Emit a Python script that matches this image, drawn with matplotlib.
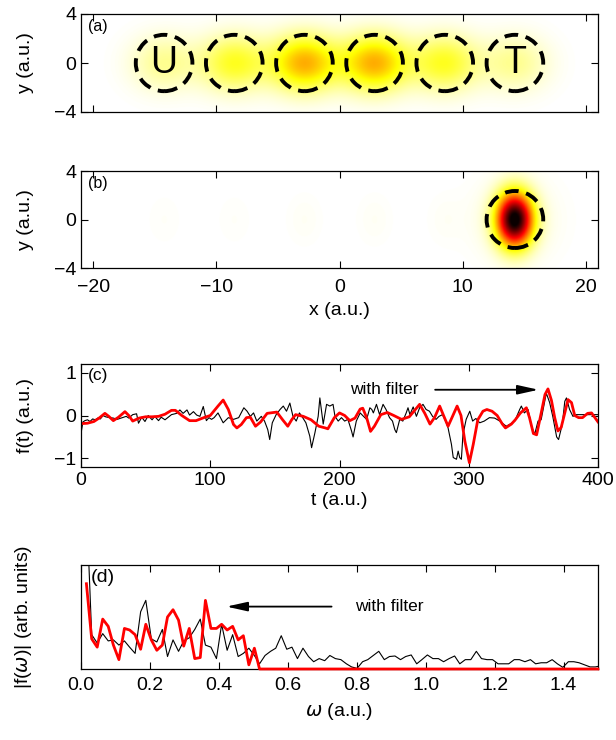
import numpy as np
import matplotlib
matplotlib.use('Agg')
import matplotlib.pyplot as plt
from matplotlib.patches import Ellipse

# ---- panel (a)/(b): site positions and density amplitudes ----
site_x = [-14.25, -8.55, -2.85, 2.85, 8.55, 14.25]
dens_a = [0.11, 0.22, 0.37, 0.37, 0.22, 0.11]
dens_b = [0.008, 0.008, 0.012, 0.012, 0.01, 1.0]
sigma_a = (1.9, 1.6)
sigma_b = (1.0, 1.5)
halo_b = (0.05, 2.2, 2.3)
ring_r = 2.3

# ---- panel (c): f(t), raw (black) and filtered (red) ----
t_raw = [0, 1.5, 3, 5, 7, 9, 11, 13, 15, 17, 19, 22, 25, 28, 31, 35, 37, 40, 43,
         44.5, 47, 49.5, 52, 55, 57, 60, 62, 65, 67.5, 70, 74, 76.5, 79, 82, 84,
         87, 89.5, 92, 94.6, 97, 99, 101, 103, 106, 110, 114, 118, 122, 126,
         128.5, 131, 133.5, 136, 139.5, 142, 144.5, 146, 148, 151, 154, 156.5,
         159, 161.6, 164, 166.5, 169, 171.5, 174, 177, 178.4, 181, 183.5, 184.8,
         187.4, 190, 192.5, 195, 196.5, 199, 201.5, 204, 206.5, 209.3, 210.5,
         213, 216, 218.6, 221, 223.5, 225, 226.2, 228.6, 231, 233.7, 236, 238.7,
         241, 242.8, 244, 246.6, 249, 251.6, 253, 254.5, 257, 259.5, 262, 264.6,
         267, 269.6, 272, 274.7, 277, 279.7, 282.2, 284, 286.6, 288, 290.5,
         291.8, 293, 294.3, 295.5, 298, 300.8, 303, 305.5, 308.5, 312, 316, 320,
         324, 329, 332, 335.6, 339.4, 340.7, 343, 345.9, 348.5, 351, 353.6, 356,
         360, 362.6, 365, 368, 369.5, 372.4, 374.3, 375.6, 378, 380.6, 383.2,
         390, 400]
f_raw = [-0.42, -0.15, -0.12, -0.1, -0.14, -0.08, -0.1, -0.06, -0.08, 0.0, -0.03,
         -0.05, -0.06, -0.09, -0.06, -0.02, -0.06, 0.02, 0.04, -0.18, -0.04,
         -0.14, 0.0, -0.1, -0.02, -0.12, -0.04, -0.1, -0.04, 0.02, 0.05, 0.13,
         0.05, 0.13, 0.01, 0.09, 0.01, -0.02, 0.21, -0.12, -0.05, -0.09, -0.05,
         0.06, -0.17, -0.05, -0.09, -0.05, 0.18, 0.1, -0.02, 0.06, -0.13, -0.02,
         -0.13, -0.33, -0.56, -0.17, 0.02, 0.14, 0.22, 0.1, 0.29, -0.02, -0.13,
         0.06, -0.05, -0.17, -0.48, -0.75, -0.4, -0.02, 0.41, -0.2, 0.26, 0.22,
         0.26, -0.02, -0.13, -0.05, -0.13, -0.09, -0.36, -0.5, -0.13, 0.06,
         -0.02, -0.09, 0.18, 0.14, 0.06, 0.26, 0.02, 0.26, 0.14, -0.05, -0.13,
         -0.33, -0.4, -0.09, -0.13, 0.06, 0.18, 0.02, 0.2, -0.02, 0.18, 0.26,
         0.14, 0.1, -0.02, -0.09, -0.02, 0.02, -0.13, -0.29, -0.67, -0.98, -1.02,
         -0.83, -0.98, -1.02, -0.45, -0.09, 0.1, -0.13, -0.07, -0.17, -0.13,
         -0.05, -0.06, -0.13, -0.25, -0.2, -0.13, 0.14, 0.22, 0.06, 0.14, -0.25,
         -0.44, -0.13, -0.1, 0.52, 0.3, -0.02, -0.5, -0.56, -0.2, 0.33, 0.41,
         0.14, -0.02, 0.02, 0.02, 0.02]

t_filt = [0, 5, 10, 14, 18.5, 21.5, 25, 29, 34, 37, 40, 45, 50, 55, 60, 65, 70,
          73, 78, 84, 89, 95, 100, 106, 110, 114, 118, 120.6, 124, 128, 131, 135,
          139, 144, 151.5, 156, 160, 163, 166, 172, 178, 184, 189, 191, 196, 200,
          204, 208, 212, 216, 218, 221, 224, 227, 232, 237, 242, 248, 254, 259,
          262, 266, 270, 273.5, 277.5, 280.5, 284, 287, 291, 294, 297, 300.5,
          303.5, 307, 311, 314, 318, 322, 326, 328.4, 333, 336, 340, 344.6, 347,
          350, 352.5, 356, 359, 361.3, 364, 366.5, 369, 371.5, 374.3, 376.8,
          379.5, 382, 385, 388, 392, 395, 400]
f_filt = [-0.19, -0.18, -0.14, -0.06, 0.05, -0.02, -0.12, -0.04, 0.09, 0.0,
          -0.13, -0.06, -0.03, -0.03, -0.02, 0.03, 0.12, 0.12, 0.0, -0.12, -0.12,
          -0.05, 0.0, 0.22, 0.36, 0.14, -0.21, -0.29, -0.21, -0.05, -0.04, -0.25,
          -0.15, 0.05, 0.08, -0.1, -0.25, -0.1, 0.02, -0.02, -0.1, -0.25, -0.29,
          -0.31, -0.05, 0.06, 0.0, -0.12, -0.06, 0.15, 0.17, -0.05, -0.37, -0.25,
          0.02, 0.07, 0.0, -0.09, -0.03, 0.15, 0.26, 0.05, -0.2, -0.05, 0.22, 0.0,
          -0.25, -0.05, 0.22, 0.0, -0.6, -1.1, -0.67, -0.1, 0.1, 0.14, 0.1, 0.0,
          -0.2, -0.29, -0.2, -0.1, 0.06, 0.18, -0.05, -0.42, -0.45, 0.05, 0.49,
          0.62, 0.35, -0.05, -0.36, -0.28, 0.06, 0.37, 0.3, 0.0, -0.05, -0.05,
          0.05, 0.06, -0.15]

# ---- panel (d): spectra |f(omega)| ----
w_raw = [0.0157, 0.031, 0.047, 0.063, 0.079, 0.094, 0.110, 0.126, 0.141, 0.157,
         0.173, 0.188, 0.204, 0.220, 0.236, 0.251, 0.267, 0.283, 0.298, 0.314,
         0.330, 0.346, 0.361, 0.377, 0.393, 0.408, 0.424, 0.440, 0.456, 0.471,
         0.487, 0.503, 0.518, 0.534, 0.550, 0.565, 0.581, 0.597, 0.612, 0.628,
         0.644, 0.660, 0.675, 0.691, 0.707, 0.722, 0.738, 0.754, 0.770, 0.785,
         0.801, 0.817, 0.832, 0.848, 0.864, 0.880, 0.895, 0.911, 0.927, 0.942,
         0.958, 0.974, 0.989, 1.005, 1.021, 1.037, 1.052, 1.068, 1.084, 1.099,
         1.115, 1.131, 1.147, 1.162, 1.178, 1.194, 1.210, 1.225, 1.241, 1.257,
         1.272, 1.288, 1.304, 1.319, 1.335, 1.351, 1.367, 1.382, 1.398, 1.414,
         1.430, 1.445, 1.461, 1.477, 1.492, 1.508]
s_raw = [1.6, 0.33, 0.25, 0.34, 0.27, 0.28, 0.23, 0.27, 0.21, 0.15, 0.55, 0.66,
         0.29, 0.26, 0.38, 0.12, 0.28, 0.17, 0.27, 0.30, 0.38, 0.48, 0.23, 0.21,
         0.10, 0.43, 0.18, 0.33, 0.12, 0.15, 0.20, 0.13, 0.05, 0.13, 0.17, 0.20,
         0.32, 0.19, 0.21, 0.10, 0.20, 0.12, 0.07, 0.10, 0.08, 0.13, 0.10, 0.09,
         0.05, 0.02, 0.006, 0.07, 0.09, 0.13, 0.17, 0.09, 0.12, 0.125, 0.09, 0.12,
         0.135, 0.05, 0.09, 0.135, 0.10, 0.10, 0.07, 0.10, 0.125, 0.05, 0.09,
         0.09, 0.17, 0.10, 0.09, 0.09, 0.05, 0.05, 0.05, 0.09, 0.09, 0.07, 0.09,
         0.05, 0.06, 0.06, 0.09, 0.05, 0.016, 0.07, 0.07, 0.06, 0.04, 0.02, 0.02,
         0.03]
w_filt = [0.0157, 0.031, 0.047, 0.063, 0.079, 0.094, 0.110, 0.126, 0.141, 0.157,
          0.173, 0.188, 0.204, 0.220, 0.236, 0.251, 0.267, 0.283, 0.298, 0.314,
          0.330, 0.346, 0.361, 0.377, 0.393, 0.408, 0.424, 0.440, 0.456, 0.471,
          0.487, 0.503, 0.518, 1.5]
s_filt = [0.82, 0.29, 0.21, 0.48, 0.41, 0.23, 0.09, 0.39, 0.375, 0.33, 0.19,
          0.43, 0.28, 0.18, 0.23, 0.50, 0.57, 0.47, 0.22, 0.39, 0.10, 0.11, 0.66,
          0.39, 0.39, 0.43, 0.375, 0.41, 0.28, 0.32, 0.04, 0.20, 0.0, 0.0]

plt.rcParams['font.family'] = ['Liberation Sans', 'DejaVu Sans']
plt.rcParams['font.size'] = 14
plt.rcParams['mathtext.fontset'] = 'dejavusans'
for ax_ in ('xtick', 'ytick'):
    plt.rcParams[ax_ + '.direction'] = 'in'
    plt.rcParams[ax_ + '.major.size'] = 5
    plt.rcParams[ax_ + '.major.width'] = 0.8
plt.rcParams['xtick.top'] = True
plt.rcParams['ytick.right'] = True
plt.rcParams['axes.linewidth'] = 0.9

fig = plt.figure(figsize=(6.16, 7.40), dpi=100)
L, W = 81 / 616, 517 / 616
ax_a = fig.add_axes([L, 1 - 112 / 740, W, 98 / 740])
ax_b = fig.add_axes([L, 1 - 268 / 740, W, 97 / 740])
ax_c = fig.add_axes([L, 1 - 467 / 740, W, 103 / 740])
ax_d = fig.add_axes([L, 1 - 669 / 740, W, 104 / 740])

xg = np.linspace(-21, 21, 840)
yg = np.linspace(-4, 4, 200)
X, Y = np.meshgrid(xg, yg)

rho_a = np.zeros_like(X)
for x0, a in zip(site_x, dens_a):
    rho_a += a * np.exp(-(X - x0) ** 2 / (2 * sigma_a[0] ** 2) - Y ** 2 / (2 * sigma_a[1] ** 2))

rho_b = np.zeros_like(X)
for x0, a in zip(site_x, dens_b):
    rho_b += a * np.exp(-(X - x0) ** 2 / (2 * sigma_b[0] ** 2) - Y ** 2 / (2 * sigma_b[1] ** 2))
rho_b += halo_b[0] * np.exp(-(X - site_x[-1]) ** 2 / (2 * halo_b[1] ** 2) - Y ** 2 / (2 * halo_b[2] ** 2))

for ax, rho in ((ax_a, rho_a), (ax_b, rho_b)):
    ax.imshow(rho, extent=[-21, 21, -4, 4], origin='lower', cmap='hot_r',
              vmin=0, vmax=1, aspect='auto', interpolation='bilinear')
    ax.set_xlim(-21, 21)
    ax.set_ylim(-4, 4)
    ax.set_xticks([-20, -10, 0, 10, 20])
    ax.set_yticks([-4, 0, 4])
    ax.set_ylabel('y (a.u.)')
    ax.yaxis.set_label_coords(-0.09, 0.5)

for x0 in site_x:
    ax_a.add_patch(Ellipse((x0, 0), 2 * ring_r, 2 * ring_r, fill=False, ec='k',
                           lw=2.8, ls=(0, (3.5, 2.0))))
ax_a.text(site_x[0], 0, 'U', ha='center', va='center', fontsize=27)
ax_a.text(site_x[-1], 0, 'T', ha='center', va='center', fontsize=27)
ax_a.set_xticklabels([])
ax_b.add_patch(Ellipse((site_x[-1], 0), 2 * ring_r, 2 * 2.35, fill=False, ec='k',
                       lw=2.8, ls=(0, (3.5, 2.0))))
ax_b.tick_params(axis='x', pad=8)
ax_b.set_xlabel('x (a.u.)', labelpad=4)

ax_a.text(0.014, 0.95, '(a)', transform=ax_a.transAxes, ha='left', va='top', fontsize=11.5)
ax_b.text(0.014, 0.95, '(b)', transform=ax_b.transAxes, ha='left', va='top', fontsize=11.5)

# (c)
ax_c.plot(t_raw, f_raw, color='k', lw=0.8)
ax_c.plot(t_filt, f_filt, color='red', lw=2.0)
ax_c.set_xlim(0, 400)
ax_c.set_ylim(-1.2, 1.2)
ax_c.set_xticks([0, 100, 200, 300, 400])
ax_c.set_yticks([-1, 0, 1])
ax_c.set_xlabel('t (a.u.)', labelpad=2)
ax_c.set_ylabel('f(t) (a.u.)')
ax_c.yaxis.set_label_coords(-0.09, 0.5)
ax_c.text(0.014, 0.96, '(c)', transform=ax_c.transAxes, ha='left', va='top', fontsize=12.5)
ax_c.annotate('', xy=(354, 0.6), xytext=(274, 0.6),
              arrowprops=dict(arrowstyle='-|>,head_length=0.9,head_width=0.2',
                              color='k', lw=1.3, shrinkA=0, shrinkB=0))
ax_c.text(208, 0.6, 'with filter', ha='left', va='center', fontsize=12.5)

# (d)
ax_d.plot(w_raw, s_raw, color='k', lw=0.8)
ax_d.plot(w_filt, s_filt, color='red', lw=2.0, clip_on=False, zorder=3)
ax_d.set_xlim(0, 1.5)
ax_d.set_ylim(0, 1)
ax_d.set_xticks([0.0, 0.2, 0.4, 0.6, 0.8, 1.0, 1.2, 1.4])
ax_d.set_xticklabels(['0.0', '0.2', '0.4', '0.6', '0.8', '1.0', '1.2', '1.4'])
ax_d.set_yticks([])
ax_d.tick_params(axis='x', pad=6)
ax_d.set_xlabel(r'$\omega$ (a.u.)', labelpad=5)
ax_d.set_ylabel(r'|f($\omega$)| (arb. units)')
ax_d.yaxis.set_label_coords(-0.09, 0.5)
ax_d.text(0.018, 0.96, '(d)', transform=ax_d.transAxes, ha='left', va='top', fontsize=14)
ax_d.annotate('', xy=(0.422, 0.6), xytext=(0.727, 0.6),
              arrowprops=dict(arrowstyle='-|>,head_length=0.9,head_width=0.2',
                              color='k', lw=1.3, shrinkA=0, shrinkB=0))
ax_d.text(0.795, 0.6, 'with filter', ha='left', va='center', fontsize=12.5)

fig.savefig('out.png', dpi=100)
